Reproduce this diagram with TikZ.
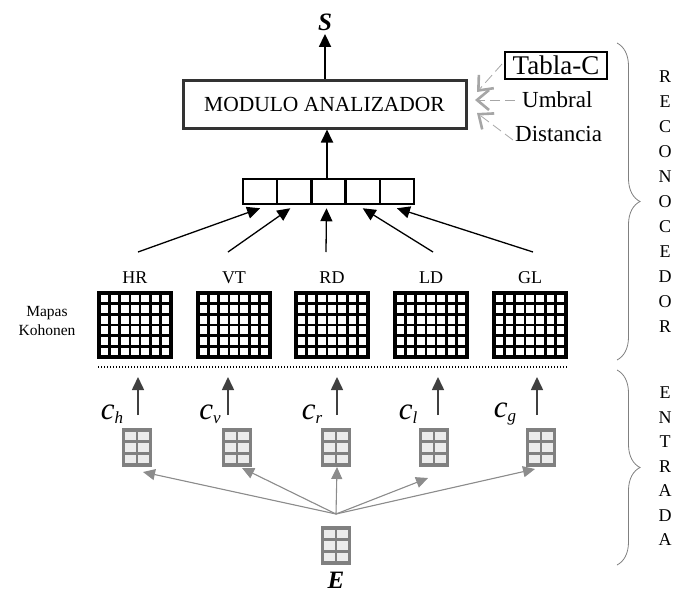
\documentclass[tikz,border=0pt]{standalone}
\usepackage{fontspec}
\setmainfont{Liberation Serif}
\usetikzlibrary{arrows.meta,decorations.pathreplacing,calc}
\begin{document}
\begin{tikzpicture}[x=1pt,y=-1pt,
  fs/.style={font=\fontsize{#1}{#1}\selectfont},
  blk/.style={-{Triangle[length=13pt,width=12pt]}, line width=1.8pt},
  gry/.style={-{Triangle[length=12pt,width=11pt]}, line width=1.1pt, draw=gray!90, fill=gray!90},
  param/.style={-{Straight Barb[length=12pt,width=20pt,line width=2.6pt]}, draw=gray!70, line width=0.8pt, dash pattern=on 10pt off 5pt},
  cellbox/.style={draw, line width=2.5pt, minimum width=34.2pt, minimum height=25pt, inner sep=0pt},
  brc/.style={draw=gray, line width=0.8pt, decorate, decoration={brace, amplitude=23pt}},
  kmap/.pic={
    \foreach \i in {1,...,6} \draw[line width=2.6pt] (-36+\i*72/7,-32) -- (-36+\i*72/7,32);
    \foreach \j in {1,...,5} \draw[line width=2.6pt] (-36,-32+\j*64/6) -- (36,-32+\j*64/6);
    \draw[line width=3.2pt] (-36,-32) rectangle (36,32);
  },
  win/.pic={
    \fill[gray!15] (-13.5,-17.5) rectangle (13.5,17.5);
    \draw[gray, line width=2.8pt] (0,-17.5) -- (0,17.5);
    \draw[gray, line width=2.8pt] (-13.5,-5.8) -- (13.5,-5.8) (-13.5,5.8) -- (13.5,5.8);
    \draw[gray, line width=3.2pt] (-13.5,-17.5) rectangle (13.5,17.5);
  }
]
\useasboundingbox (0,0) rectangle (681,595);

% top
\node[fs=25] (S) at (325,22) {\textbf{\textit{S}}};
\node[draw=black!80, line width=3pt, minimum width=283pt, minimum height=48pt, inner sep=0pt, fs=21.5] (mod) at (324.5,104) {MODULO ANALIZADOR};
\draw[blk] (mod.north -| S) -- (S.south);

% parameters
\node[draw, line width=1.6pt, fs=27, inner sep=1pt, minimum width=102pt, minimum height=27pt] (tab) at (556,65.5) {Tabla-C};
\node[fs=23, anchor=west, inner sep=0pt] (umb) at (522,100) {Umbral};
\node[fs=23, anchor=west, inner sep=0pt] (dis) at (515,134) {Distancia};
\coordinate (tT) at (477,92);
\coordinate (tU) at (475,100);
\coordinate (tD) at (477,113);
\coordinate (sT) at (502,64);
\coordinate (sD) at (513,140);
\draw[param] (sT) -- (tT);
\draw[param] ([xshift=-7pt]umb.west) -- (tU);
\draw[param] (sD) -- (tD);

% vector
\foreach \k/\x in {1/260.1,2/294.3,3/328.5,4/362.7,5/396.9}
  \node[cellbox] (v\k) at (\x,191.5) {};
\draw[blk] (v3.north -| 327,0) -- (mod.south -| 327,0);

% map labels and maps
\foreach \n/\x in {HR/135,VT/234,RD/332,LD/431,GL/530}{
  \node[fs=18] (l\n) at (\x,278) {\n};
  \pic at (\x,325) {kmap};
}
\node[fs=15.5, align=center] (mk) at (47,321) {Mapas\\[3pt]Kohonen};

\coordinate (aHR) at (138,252);
\coordinate (aVT) at (228,252);
\coordinate (aRD) at (326,252);
\coordinate (aLD) at (433,252);
\coordinate (aGL) at (533,252);
\draw[blk, line width=1.3pt] (aHR) -- ([yshift=-3pt]v1.south);
\draw[blk, line width=1.3pt] (aVT) -- ([xshift=-4pt,yshift=-3pt]v2.south);
\draw[blk, line width=1.3pt] (aRD) -- ([xshift=-2pt,yshift=-3pt]v3.south);
\draw[blk, line width=1.3pt] (aLD) -- ([yshift=-3pt]v4.south);
\draw[blk, line width=1.3pt] (aGL) -- ([yshift=-3pt]v5.south);

% dotted separator
\coordinate (d1) at (98,367);
\coordinate (d2) at (568,367);
\draw[line width=2pt, dash pattern=on 1.2pt off 1.8pt] (d1) -- (d2);

% input arrows and labels
\foreach \n/\x/\cx/\s in {h/138/112/h,v/228/210/v,r/337/312/r,l/438/408/l,g/537/505/g}{
  \coordinate (b\n) at (\x,415);
  \coordinate (t\n) at (\x,377);
  \draw[blk, draw=black!75, line width=1.6pt] (b\n) -- (t\n);
  \node[fs=31, inner sep=0pt] (c\n) at (\cx,414) {\textit{c}\raisebox{-4pt}{\fontsize{17}{17}\selectfont\textit{\s}}};
}

% small windows
\foreach \n/\x in {h/137,v/237,r/336,l/434,g/541}
  \pic at (\x,447.5) {win};
\pic at (336,545.5) {win};
\node[fs=25] (E) at (336,580) {\textbf{\textit{E}}};

\coordinate (hub) at (336,514);
\coordinate (wh) at (143,472);
\coordinate (wv) at (242,468);
\coordinate (wr) at (337,467);
\coordinate (wl) at (428,478);
\coordinate (wg) at (535,469);
\foreach \n in {h,v,r,l,g}
  \draw[gry] (hub) -- (w\n);

% braces
\coordinate (b1t) at (617,43);
\coordinate (b1b) at (617,360);
\coordinate (b2t) at (617,370);
\coordinate (b2b) at (617,565);
\draw[brc] (b1t) -- (b1b);
\draw[brc] (b2t) -- (b2b);
\node[align=center, font=\fontsize{18}{25}\selectfont] (rec) at (665,202) {R\\E\\C\\O\\N\\O\\C\\E\\D\\O\\R};
\node[align=center, font=\fontsize{18}{24.5}\selectfont] (ent) at (665,466.5) {E\\N\\T\\R\\A\\D\\A};
\end{tikzpicture}
\end{document}
